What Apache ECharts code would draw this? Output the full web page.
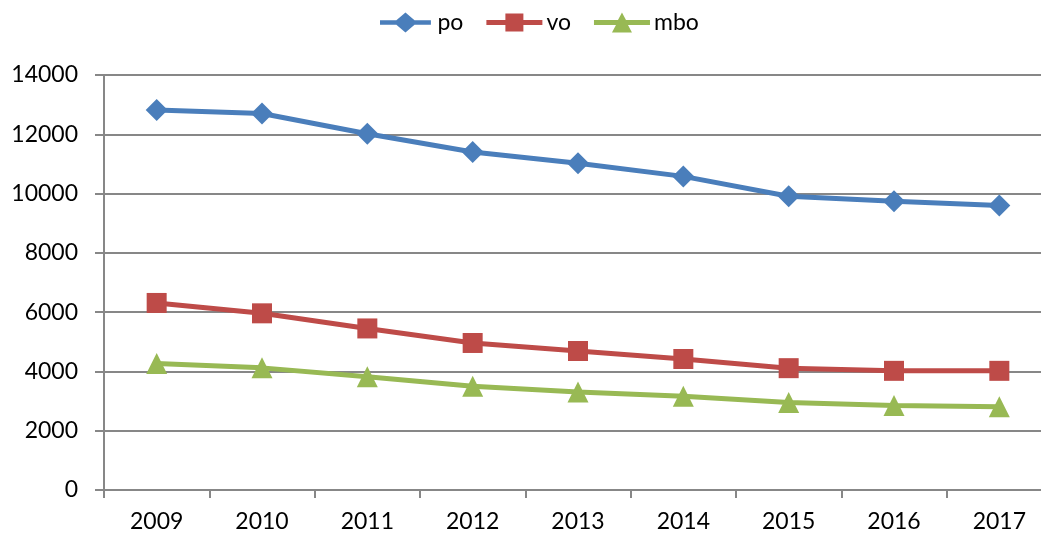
<!DOCTYPE html>
<html>
<head>
<meta charset="utf-8">
<script src="https://cdn.jsdelivr.net/npm/echarts@6/dist/echarts.min.js"></script>
<style>
  html, body { margin: 0; padding: 0; background: #fff; overflow: hidden; }
  #wrap { width: 1041px; height: 540px; overflow: hidden; }
  /* the plot runs slightly past the right edge of the frame */
  #chart { width: 1052px; height: 540px; }
</style>
</head>
<body>
<div id="wrap"><div id="chart"></div></div>
<script>
// Yearly values for the three series
const years = ['2009', '2010', '2011', '2012', '2013', '2014', '2015', '2016', '2017'];
const po  = [12820, 12700, 12020, 11400, 11020, 10580, 9910, 9740, 9600];
const vo  = [6310, 5960, 5450, 4960, 4690, 4420, 4110, 4020, 4020];
const mbo = [4270, 4120, 3820, 3500, 3310, 3160, 2950, 2850, 2810];
const yTicks = { min: 0, max: 14000, interval: 2000 };

const FONT = 'Lato, "Open Sans", "Liberation Sans", sans-serif';
const GRID = '#878787';

// Legend keys: a thick line segment with the series marker in the middle (56x20 box)
const KEY_DIAMOND  = 'path://M0,7.5 L18,7.5 L28,-1 L38,7.5 L56,7.5 L56,12.5 L38,12.5 L28,21 L18,12.5 L0,12.5 Z';
const KEY_SQUARE   = 'path://M0,7.5 L19,7.5 L19,1 L37,1 L37,7.5 L56,7.5 L56,12.5 L37,12.5 L37,19 L19,19 L19,12.5 L0,12.5 Z';
const KEY_TRIANGLE = 'path://M0,7.5 L24,7.5 L28,0 L32,7.5 L56,7.5 L56,12.5 L34,12.5 L38,20 L18,20 L22,12.5 L0,12.5 Z';

const chart = echarts.init(document.getElementById('chart'), null, { renderer: 'canvas' });

function lineSeries(name, data, color, symbol, size) {
  return {
    name: name,
    type: 'line',
    data: data,
    symbol: symbol,
    symbolSize: size,
    showAllSymbol: true,
    lineStyle: { color: color, width: 5 },
    itemStyle: { color: color },
    emphasis: { disabled: true },
    z: 3
  };
}

chart.setOption({
  animation: false,
  backgroundColor: '#ffffff',
  textStyle: { fontFamily: FONT },
  legend: {
    top: 6,
    left: 375,
    itemWidth: 56,
    itemHeight: 20,
    itemGap: 23,
    textStyle: { fontSize: 23, color: '#000', fontFamily: FONT, padding: [0, 0, 0, -1] },
    data: [
      { name: 'po', icon: KEY_DIAMOND },
      { name: 'vo', icon: KEY_SQUARE },
      { name: 'mbo', icon: KEY_TRIANGLE }
    ]
  },
  grid: { left: 104, right: 0, top: 75, height: 415, containLabel: false },
  xAxis: {
    type: 'category',
    data: years,
    boundaryGap: true,
    axisLine: { lineStyle: { color: GRID, width: 2 } },
    axisTick: { show: true, length: 8, lineStyle: { color: GRID, width: 2 }, alignWithLabel: false },
    axisLabel: { fontSize: 23, color: '#000', margin: 20, fontFamily: FONT },
    splitLine: { show: false }
  },
  yAxis: {
    type: 'value',
    min: yTicks.min,
    max: yTicks.max,
    interval: yTicks.interval,
    axisLine: { show: true, lineStyle: { color: GRID, width: 2 } },
    axisTick: { show: true, length: 9, lineStyle: { color: GRID, width: 2 } },
    axisLabel: { fontSize: 23, color: '#000', margin: 26, fontFamily: FONT, formatter: v => String(v) },
    splitLine: { show: true, lineStyle: { color: GRID, width: 2 } }
  },
  series: [
    lineSeries('po', po, '#4A7EBB', 'diamond', 22),
    lineSeries('vo', vo, '#BE4B48', 'rect', 20),
    lineSeries('mbo', mbo, '#98B954', 'triangle', 21)
  ]
});
</script>
</body>
</html>
